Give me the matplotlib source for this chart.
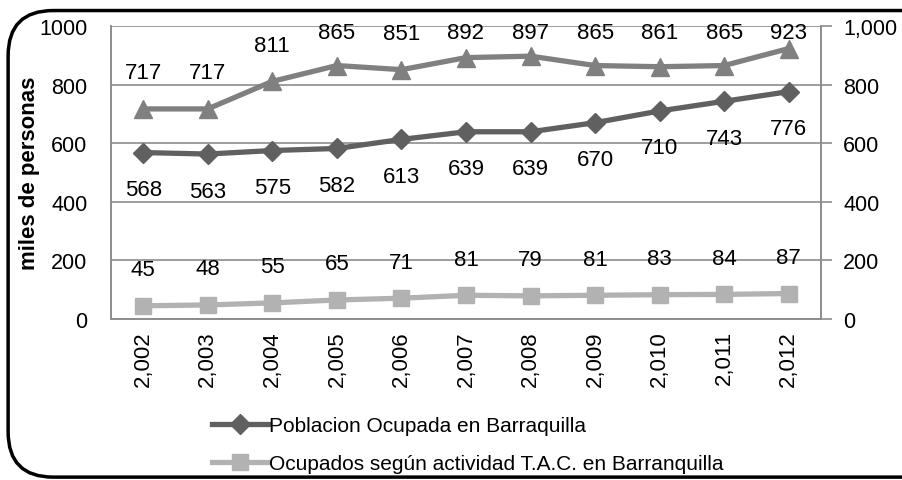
import matplotlib.pyplot as plt
from matplotlib.patches import FancyBboxPatch
from matplotlib.ticker import FuncFormatter

plt.rcParams['font.family'] = ['Liberation Sans', 'DejaVu Sans']

years = ['2,002', '2,003', '2,004', '2,005', '2,006', '2,007', '2,008', '2,009', '2,010', '2,011', '2,012']
poblacion = [568, 563, 575, 582, 613, 639, 639, 670, 710, 743, 776]
tac = [45, 48, 55, 65, 71, 81, 79, 81, 83, 84, 87]
total = [717, 717, 811, 865, 851, 892, 897, 865, 861, 865, 923]


def main():
    fig = plt.figure(figsize=(9.03, 4.81), dpi=100)
    ax = fig.add_axes([0.1229, 0.3347, 0.7863, 0.6092])
    ax2 = ax.twinx()
    x = list(range(len(years)))

    grey = '#8c8c8c'
    for a in (ax, ax2):
        a.set_ylim(0, 1000)
        a.set_xlim(-0.5, len(years) - 0.5)
        for s in a.spines.values():
            s.set_color(grey)
            s.set_linewidth(1.2)
        a.spines['top'].set_visible(False)

    ax.set_yticks(range(0, 1001, 200))
    ax.yaxis.grid(True, color=grey, linewidth=1.2)
    ax.set_axisbelow(True)
    ax.tick_params(axis='y', length=0, labelsize=15.5, pad=17)
    ax.tick_params(axis='x', length=0, labelsize=16, pad=8)
    ax.set_xticks(x)
    ax.set_xticklabels(years, rotation=90)
    ax.set_ylabel('miles de personas', fontsize=16, fontweight='bold')
    ax.yaxis.set_label_coords(-0.1, 0.5)

    ax2.set_yticks(range(0, 1001, 200))
    ax2.yaxis.set_major_formatter(FuncFormatter(lambda v, p: f'{int(v):,}'))
    ax2.tick_params(axis='y', length=8, width=1.2, color=grey, labelsize=15.5, pad=8)

    l1, = ax.plot(x, poblacion, color='#606060', linewidth=3.8, marker='D', markersize=10,
                  label='Poblacion Ocupada en Barraquilla')
    l2, = ax.plot(x, tac, color='#b2b2b2', linewidth=3.8, marker='s', markersize=12,
                  label='Ocupados según actividad T.A.C. en Barranquilla')
    ax2.plot(x, total, color='#808080', linewidth=3.8, marker='^', markersize=13)

    # labels: 36 px above / 37 px below, top labels kept inside the plot area
    px = 1000 / (0.6092 * 481)
    for i in x:
        ax.annotate(str(poblacion[i]), (i, poblacion[i] - 37 * px),
                    ha='center', va='center', fontsize=16)
        ax.annotate(str(tac[i]), (i, tac[i] + 36 * px),
                    ha='center', va='center', fontsize=16)
        ax2.annotate(str(total[i]), (i, min(total[i] + 36 * px, 1000 - 7 * px)),
                     ha='center', va='center', fontsize=16)

    fig.legend(handles=[l1, l2], loc='upper left', bbox_to_anchor=(0.226, 0.15),
               frameon=False, fontsize=15, handlelength=2.65, handletextpad=0.05,
               labelspacing=0.9, borderaxespad=0)

    frame = FancyBboxPatch((0.009, 0.006), 1.05, 0.97, boxstyle='round,pad=0,rounding_size=0.05',
                           transform=fig.transFigure, fill=False, edgecolor='black',
                           linewidth=2.5, mutation_aspect=1.88)
    fig.patches.append(frame)

    fig.savefig('out.png', dpi=100)


if __name__ == '__main__':
    main()
